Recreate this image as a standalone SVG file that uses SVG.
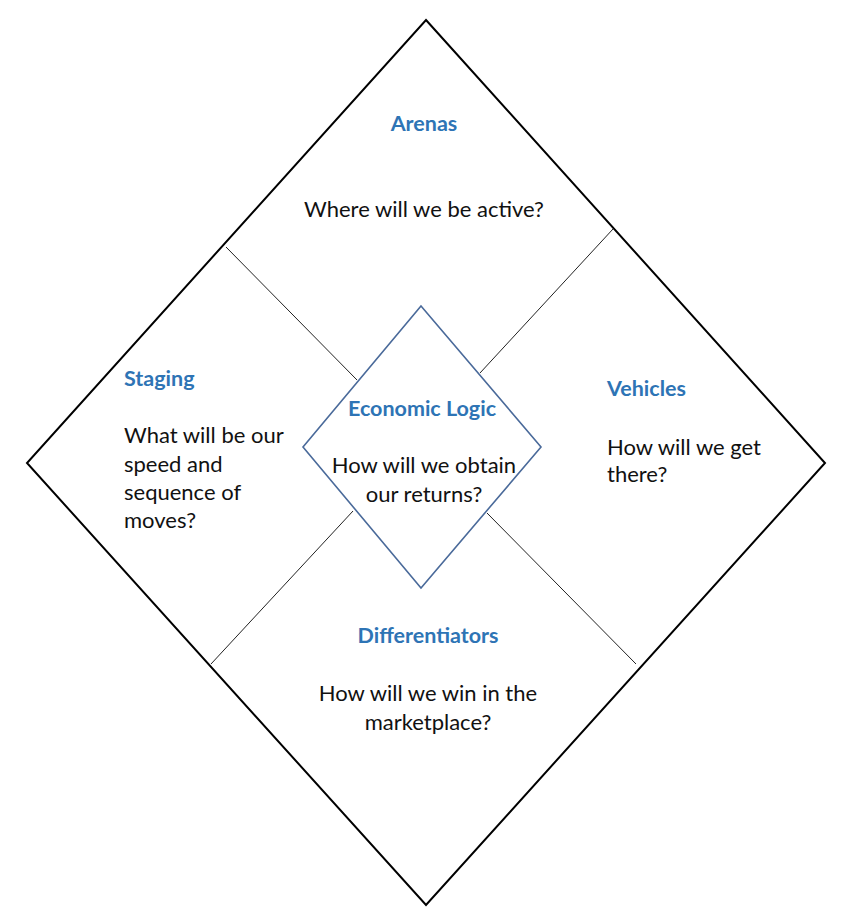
<svg xmlns="http://www.w3.org/2000/svg" width="850" height="922" viewBox="0 0 850 922">
<style>
.outer{fill:none;stroke:#000;stroke-width:2}
.inner{fill:#fff;stroke:#4a6a9a;stroke-width:1.6}
.div{stroke:#222;stroke-width:1}
.t{font-family:Lato,"Liberation Sans",sans-serif;font-size:22px;fill:#111}
.h{font-family:Lato,"Liberation Sans",sans-serif;font-size:21.5px;font-weight:bold;fill:#2E74B5}
.c{text-anchor:middle}
</style>
<rect width="850" height="922" fill="#fff"/>
<g id="frame">
<polygon class="outer" points="426,20 825,463 426,905 27,463"/>
</g>
<g id="connectors">
<line class="div" x1="226" y1="247" x2="357" y2="380"/>
<line class="div" x1="613" y1="229" x2="480" y2="373"/>
<line class="div" x1="353" y1="511" x2="211" y2="664"/>
<line class="div" x1="487" y1="513" x2="636" y2="664"/>
</g>
<g id="arenas">
<text class="h c" x="424" y="131">Arenas</text>
<text class="t c" x="424" y="217">Where will we be active?</text>
</g>
<g id="staging">
<text class="h" x="124" y="386">Staging</text>
<text class="t" x="124" y="443">What will be our</text>
<text class="t" x="124" y="472">speed and</text>
<text class="t" x="124" y="500">sequence of</text>
<text class="t" x="124" y="528">moves?</text>
</g>
<g id="vehicles">
<text class="h" x="607" y="396">Vehicles</text>
<text class="t" x="607" y="455">How will we get</text>
<text class="t" x="607" y="482">there?</text>
</g>
<g id="differentiators">
<text class="h c" x="428" y="643">Differentiators</text>
<text class="t c" x="428" y="701">How will we win in the</text>
<text class="t c" x="428" y="730">marketplace?</text>
</g>
<g id="economic-logic">
<polygon class="inner" points="421,306 541,447 421,588 303,447"/>
<text class="h c" x="422" y="416">Economic Logic</text>
<text class="t c" x="424" y="473">How will we obtain</text>
<text class="t c" x="424" y="502">our returns?</text>
</g>
</svg>
